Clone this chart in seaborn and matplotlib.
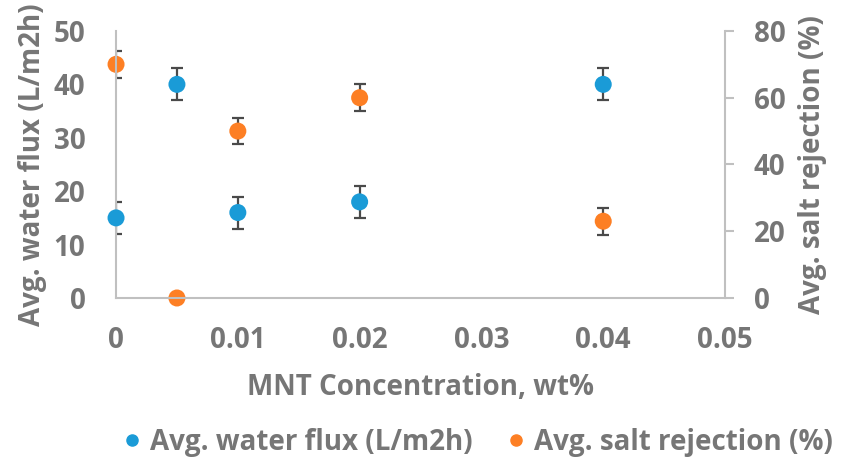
import matplotlib
matplotlib.use("Agg")
import matplotlib.pyplot as plt
from matplotlib.lines import Line2D
import seaborn as sns
import pandas as pd

# data
conc = [0, 0.005, 0.01, 0.02, 0.04]
flux = [15, 40, 16, 18, 40]
flux_err = [3, 3, 3, 3, 3]
rejection = [70, 0, 50, 60, 23]
rejection_err = [4, 0, 4, 4, 4]
x_ticks = [0, 0.01, 0.02, 0.03, 0.04, 0.05]
x_ticklabels = ["0", "0.01", "0.02", "0.03", "0.04", "0.05"]
left_ticks = [0, 10, 20, 30, 40, 50]
right_ticks = [0, 20, 40, 60, 80]
series_names = ["Avg. water flux (L/m2h)", "Avg. salt rejection (%)"]

sns.set_style("white")
plt.rcParams['font.family'] = ['Open Sans', 'DejaVu Sans']
plt.rcParams['font.weight'] = 'bold'

BLUE = "#1a9bd7"
ORANGE = "#fd7f24"
GRAY = "#767676"
SPINE = "#c0c0c0"
ERR = "#4a4a4a"
FS = 20

fig = plt.figure(figsize=(8.47, 4.62), dpi=100)
ax = fig.add_axes([0.137, 0.355, 0.719, 0.578])
ax2 = ax.twinx()

df_f = pd.DataFrame({"x": conc, "y": flux})
df_r = pd.DataFrame({"x": conc, "y": rejection})

ax.errorbar(conc, flux, yerr=flux_err, fmt='none', ecolor=ERR, elinewidth=1.6,
            capsize=4.5, capthick=1.6, zorder=2)
sns.scatterplot(data=df_f, x="x", y="y", ax=ax, color=BLUE, s=150,
                edgecolor='none', zorder=3, clip_on=False, legend=False)

rx = [c for c, e in zip(conc, rejection_err) if e > 0]
ry = [r for r, e in zip(rejection, rejection_err) if e > 0]
re = [e for e in rejection_err if e > 0]
ax2.errorbar(rx, ry, yerr=re, fmt='none', ecolor=ERR, elinewidth=1.6,
             capsize=4.5, capthick=1.6, zorder=2)
sns.scatterplot(data=df_r, x="x", y="y", ax=ax2, color=ORANGE, s=150,
                edgecolor='none', zorder=3, clip_on=False, legend=False)

ax.set_xlim(0, 0.05)
ax.set_ylim(0, 50)
ax2.set_ylim(0, 80)
ax.set_xticks(x_ticks)
ax.set_xticklabels(x_ticklabels)
ax.set_yticks(left_ticks)
ax2.set_yticks(right_ticks)

for a in (ax, ax2):
    for s in a.spines.values():
        s.set_visible(False)
ax.spines['left'].set_visible(True)
ax.spines['bottom'].set_visible(True)
ax2.spines['right'].set_visible(True)
for s in (ax.spines['left'], ax.spines['bottom'], ax2.spines['right']):
    s.set_color(SPINE)
    s.set_linewidth(1.5)

ax.tick_params(axis='y', length=0, labelsize=FS, labelcolor=GRAY, pad=22)
ax.tick_params(axis='x', length=0, labelsize=FS, labelcolor=GRAY, pad=20)
ax2.tick_params(axis='y', length=6.5, width=1.5, color=SPINE, direction='out',
                labelsize=FS, labelcolor=GRAY, pad=14)
for lab in ax.get_xticklabels() + ax.get_yticklabels() + ax2.get_yticklabels():
    lab.set_fontweight('bold')

ax.set_xlabel("MNT Concentration, wt%", fontsize=FS, color=GRAY, fontweight='bold', labelpad=13)
ax.set_ylabel(series_names[0], fontsize=FS, color=GRAY, fontweight='bold', labelpad=5)
ax2.set_ylabel(series_names[1], fontsize=FS, color=GRAY, fontweight='bold', labelpad=9)
ax.set_zorder(ax2.get_zorder() + 1)
ax.patch.set_visible(False)

handles = [Line2D([], [], marker='o', linestyle='none', color=BLUE, markersize=8),
           Line2D([], [], marker='o', linestyle='none', color=ORANGE, markersize=8)]
leg = fig.legend(handles, series_names,
                 loc='center', bbox_to_anchor=(0.561, 0.043), ncol=2, frameon=False,
                 fontsize=FS, handletextpad=0.15, columnspacing=1.05, handlelength=1.0)
for t in leg.get_texts():
    t.set_color(GRAY)
    t.set_fontweight('bold')

fig.savefig("out.png", dpi=100)
